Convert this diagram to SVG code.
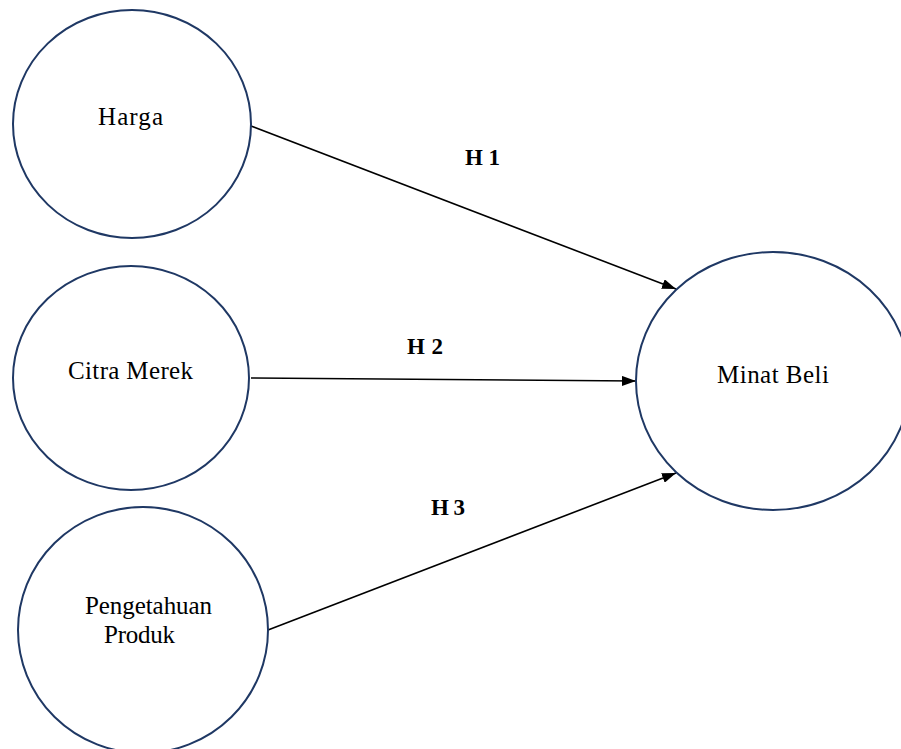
<svg xmlns="http://www.w3.org/2000/svg" width="901" height="749" viewBox="0 0 901 749">
<style>
.node{fill:#fff;stroke:#1f3864;stroke-width:2}
.lbl{font-family:"Liberation Serif",serif;font-size:25px;fill:#000}
.h{font-family:"Liberation Serif",serif;font-size:23px;font-weight:bold;fill:#000}
.edge{stroke:#000;stroke-width:1.6;fill:none;marker-end:url(#ah)}
</style>
<defs>
<marker id="ah" viewBox="0 0 10 10" refX="10" refY="5" markerWidth="14" markerHeight="10" markerUnits="userSpaceOnUse" orient="auto" preserveAspectRatio="none">
<path d="M0,0 L10,5 L0,10 z" fill="#000"/>
</marker>
</defs>
<rect width="901" height="749" fill="#fff"/>
<g id="connectors">
<line class="edge" x1="251" y1="126" x2="676" y2="289"/>
<line class="edge" x1="251" y1="378" x2="636" y2="381"/>
<line class="edge" x1="268" y1="630" x2="676" y2="473"/>
<text class="h" x="465" y="165" textLength="35" lengthAdjust="spacing">H 1</text>
<text class="h" x="407" y="354" textLength="36" lengthAdjust="spacing">H 2</text>
<text class="h" x="431" y="515" textLength="34" lengthAdjust="spacing">H 3</text>
</g>
<g id="harga">
<ellipse class="node" cx="132" cy="124" rx="119" ry="114"/>
<text class="lbl" x="98" y="125" textLength="65" lengthAdjust="spacing">Harga</text>
</g>
<g id="citra">
<ellipse class="node" cx="131" cy="378" rx="118" ry="112"/>
<text class="lbl" x="68" y="379" textLength="125" lengthAdjust="spacing">Citra Merek</text>
</g>
<g id="pengetahuan">
<ellipse class="node" cx="143" cy="630" rx="125" ry="123"/>
<text class="lbl" x="85" y="614" textLength="127" lengthAdjust="spacing">Pengetahuan</text>
<text class="lbl" x="104" y="643" textLength="71" lengthAdjust="spacing">Produk</text>
</g>
<g id="minat">
<ellipse class="node" cx="773" cy="381" rx="137" ry="129"/>
<text class="lbl" x="717" y="383" textLength="112" lengthAdjust="spacing">Minat Beli</text>
</g>
</svg>
